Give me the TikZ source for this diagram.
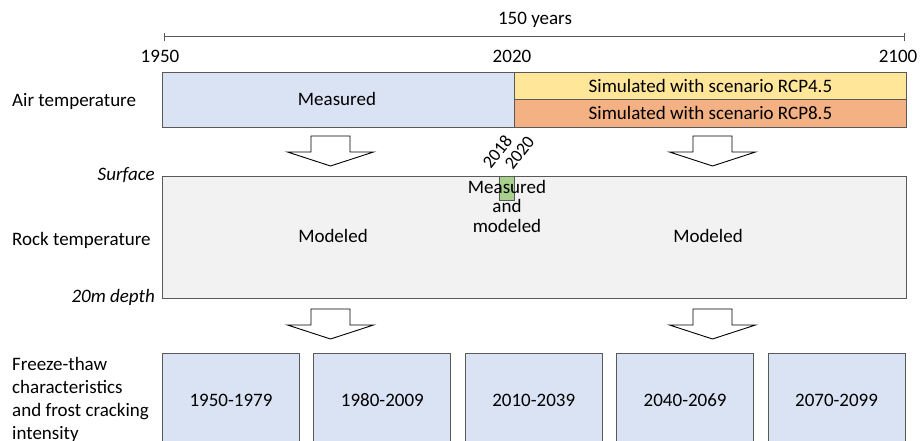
\documentclass[tikz,border=0pt]{standalone}
\usepackage{fontspec}
\setmainfont{Carlito}
\usetikzlibrary{positioning}

\definecolor{linegray}{HTML}{595959}
\definecolor{boxblue}{HTML}{DAE3F3}
\definecolor{boxyellow}{HTML}{FFE699}
\definecolor{boxorange}{HTML}{F4B183}
\definecolor{boxgray}{HTML}{F2F2F2}
\definecolor{boxgreen}{HTML}{A9D18E}

\tikzset{
  field/.style={draw=linegray,line width=0.9pt,inner sep=0pt,anchor=north west},
  period/.style={field,fill=boxblue,minimum width=137pt,minimum height=94pt},
  rowlabel/.style={anchor=west,align=left,inner sep=0pt},
  depthlabel/.style={anchor=east,inner sep=0pt,font=\fontsize{19}{23}\selectfont\itshape},
  yearlabel/.style={rotate=52,anchor=south west,inner sep=0pt,font=\fontsize{18}{20}\selectfont},
  bigarrow/.style={draw=black,fill=white,line width=0.9pt,line join=miter}
}

% hollow arrow pointing down, #1 = top centre
\newcommand{\hollowdown}[1]{
  \draw[bigarrow] (#1) ++(-19.5,0) -- ++(39,0) -- ++(0,16) -- ++(23.5,0)
    -- ++(-43,14) -- ++(-43,-14) -- ++(23.5,0) -- cycle;
}

\begin{document}
\begin{tikzpicture}[x=1pt,y=-1pt,font=\fontsize{19}{23}\selectfont]
\useasboundingbox (0,0) rectangle (920,441);
\clip (0,0) rectangle (920,441);

% time axis
\coordinate (t0) at (163.5,37);
\coordinate (t1) at (905,37);
\draw[linegray,line width=1pt,|-|] (t0) -- (t1);
\node (span) at (535,20) {150 years};
\node (y1950) at (160,56) {1950};
\node (y2020) at (512,56) {2020};
\node (y2100) at (898,56) {2100};

% air temperature
\node[rowlabel] (air) at (12,101) {Air temperature};
\node[field,fill=boxblue,minimum width=352pt,minimum height=55pt] (meas) at (162,72) {};
\node (meastext) at (337,99) {Measured};
\node[field,fill=boxyellow,minimum width=392pt,minimum height=27pt] (rcp45) at (514,72) {Simulated with scenario RCP4.5};
\node[field,fill=boxorange,minimum width=392pt,minimum height=28pt] (rcp85) at (514,99) {Simulated with scenario RCP8.5};

\coordinate (a1) at (330.5,136);
\coordinate (a2) at (712.5,136);
\hollowdown{a1}
\hollowdown{a2}

% rock temperature
\node[field,fill=boxgray,minimum width=744pt,minimum height=122pt] (rock) at (162,176) {};
\node[field,fill=boxgreen,minimum width=15pt,minimum height=24pt] (obs) at (499,176) {};
\node[yearlabel] (from) at (491,170) {2018};
\node[yearlabel] (to) at (513,171) {2020};
\node[align=center,font=\fontsize{19}{19.5}\selectfont] (both) at (507,206) {Measured\\and\\modeled};
\node (past) at (333,236) {Modeled};
\node (future) at (708,236) {Modeled};
\node[rowlabel] (rocklab) at (12,240) {Rock temperature};
\node[depthlabel] (surf) at (155,175) {Surface};
\node[depthlabel] (deep) at (155,297) {20m depth};

\coordinate (b1) at (330.5,309);
\coordinate (b2) at (712.5,309);
\hollowdown{b1}
\hollowdown{b2}

% periods
\node[rowlabel] (ftlab) at (12,400) {Freeze-thaw\\characteristics\\and frost cracking\\intensity};
\node[period] (p1) at (162,353) {1950-1979};
\node[period,right=13.5pt of p1] (p2) {1980-2009};
\node[period,right=13.5pt of p2] (p3) {2010-2039};
\node[period,right=13.5pt of p3] (p4) {2040-2069};
\node[period,right=13.5pt of p4] (p5) {2070-2099};
\end{tikzpicture}
\end{document}
